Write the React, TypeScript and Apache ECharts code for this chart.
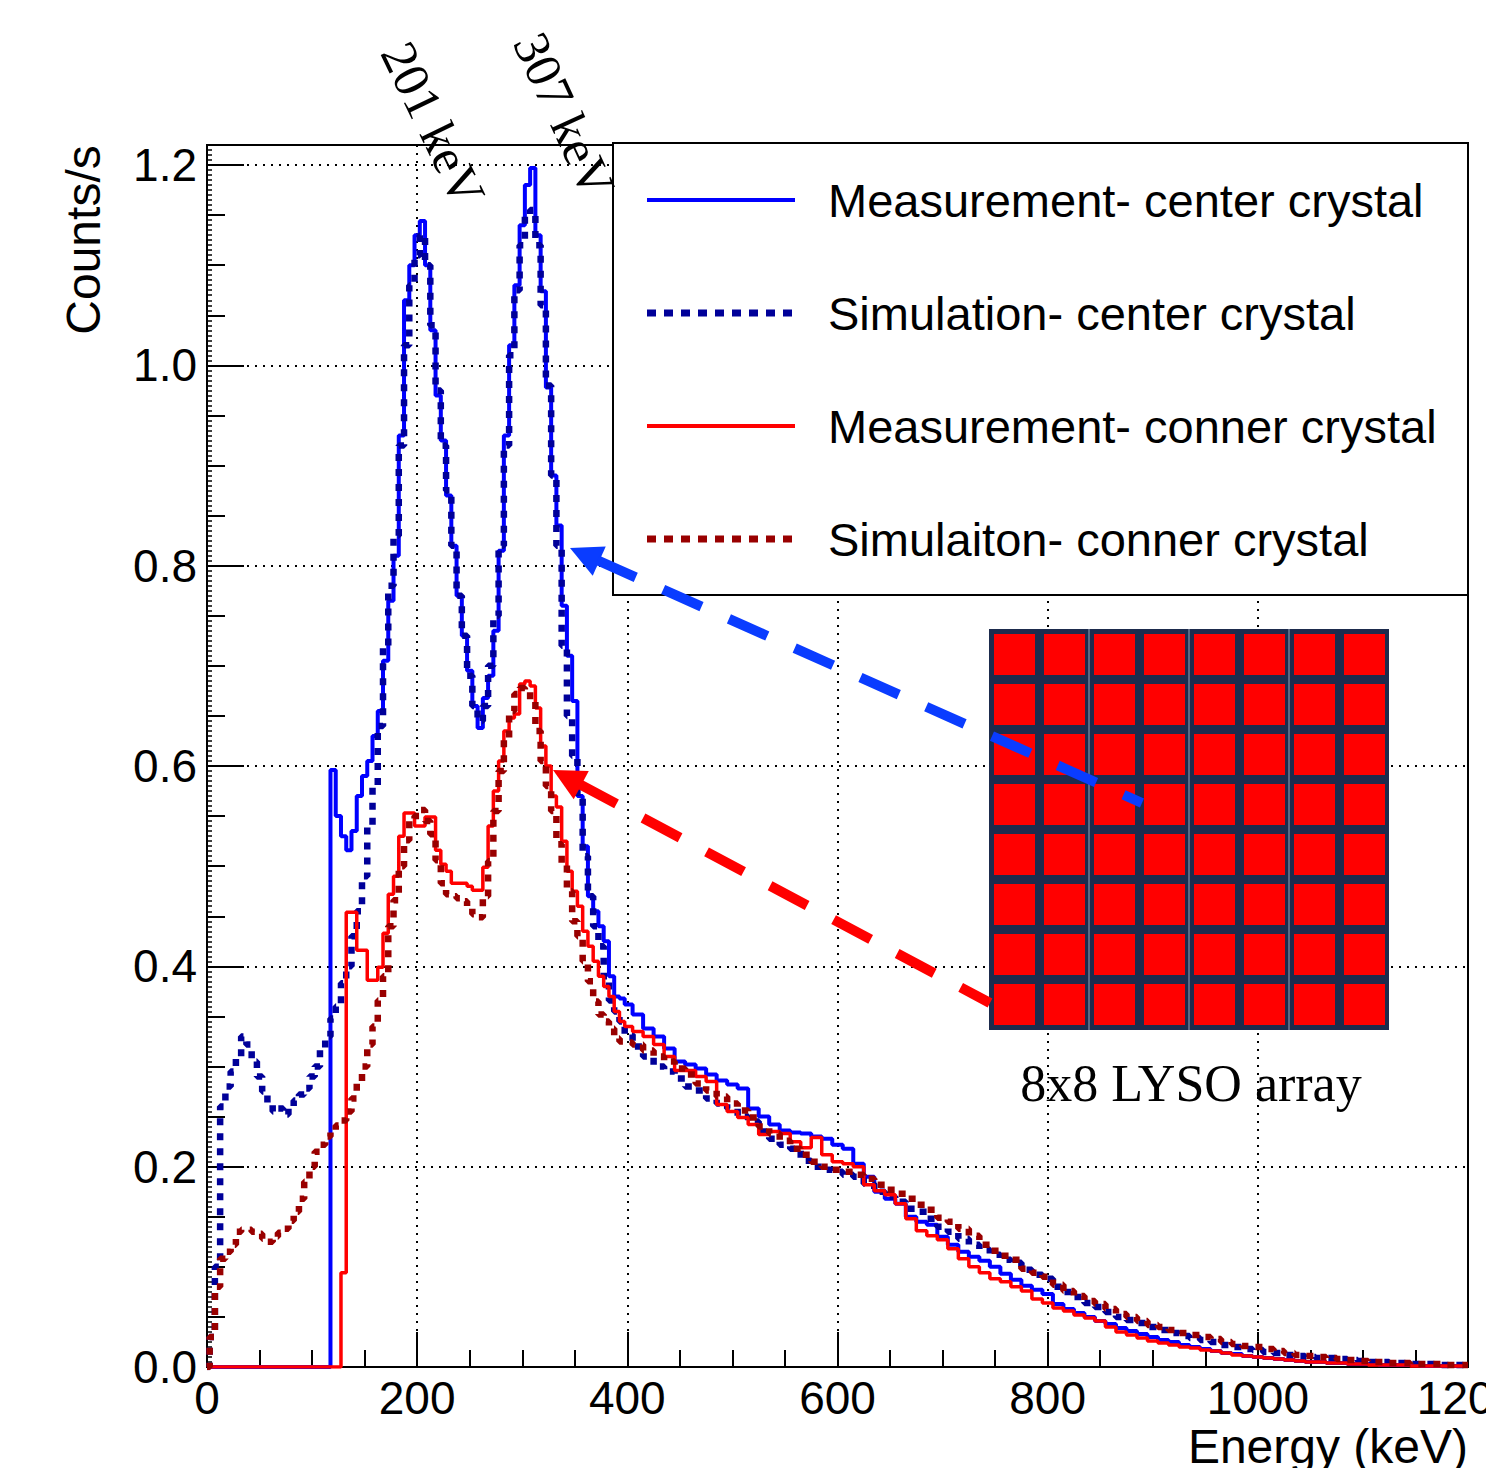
import React, { useEffect, useRef } from 'react';
import * as echarts from 'echarts';

// Bin centres (keV): 5 keV bins up to 400, 10 keV bins above
const energy = [
  0, 5, 10, 15, 20, 25, 30, 35, 40, 45, 50, 55, 60, 65, 70, 75, 80, 85, 90, 95,
  100, 105, 110, 115, 120, 125, 130, 135, 140, 145, 150, 155, 160, 165, 170, 175, 180, 185, 190, 195,
  200, 205, 210, 215, 220, 225, 230, 235, 240, 245, 250, 255, 260, 265, 270, 275, 280, 285, 290, 295,
  300, 305, 310, 315, 320, 325, 330, 335, 340, 345, 350, 355, 360, 365, 370, 375, 380, 385, 390, 395,
  400,
  410, 420, 430, 440, 450, 460, 470, 480, 490, 500, 510, 520, 530, 540, 550, 560, 570, 580, 590, 600,
  610, 620, 630, 640, 650, 660, 670, 680, 690, 700, 710, 720, 730, 740, 750, 760, 770, 780, 790, 800,
  810, 820, 830, 840, 850, 860, 870, 880, 890, 900, 910, 920, 930, 940, 950, 960, 970, 980, 990, 1000,
  1010, 1020, 1030, 1040, 1050, 1060, 1070, 1080, 1090, 1100, 1110, 1120, 1130, 1140, 1150, 1160, 1170, 1180, 1190, 1200,
];

const measCenter = [
  0, 0, 0, 0, 0, 0, 0, 0, 0, 0, 0, 0, 0, 0, 0, 0, 0, 0, 0, 0,
  0, 0, 0, 0, 0.596, 0.55, 0.53, 0.516, 0.535, 0.57, 0.59, 0.605, 0.63, 0.655, 0.705, 0.765, 0.81, 0.93, 1.065, 1.1,
  1.13, 1.144, 1.1, 1.035, 0.97, 0.925, 0.87, 0.82, 0.77, 0.73, 0.695, 0.66, 0.638, 0.668, 0.69, 0.735, 0.815, 0.93, 1.02, 1.08,
  1.14, 1.18, 1.197, 1.13, 1.074, 0.978, 0.89, 0.84, 0.76, 0.71, 0.665, 0.57, 0.52, 0.47, 0.455, 0.44, 0.425, 0.39, 0.37, 0.368,
  0.362,
  0.352, 0.338, 0.33, 0.318, 0.305, 0.302, 0.298, 0.292, 0.286, 0.282, 0.278, 0.258, 0.25, 0.242, 0.236, 0.234, 0.233, 0.23, 0.228, 0.222,
  0.218, 0.203, 0.19, 0.175, 0.168, 0.163, 0.15, 0.145, 0.142, 0.13, 0.122, 0.115, 0.11, 0.106, 0.1, 0.093, 0.087, 0.081, 0.077, 0.073,
  0.063, 0.058, 0.054, 0.05, 0.046, 0.043, 0.039, 0.036, 0.033, 0.03, 0.027, 0.025, 0.022, 0.02, 0.018, 0.016, 0.014, 0.013, 0.011, 0.01,
  0.009, 0.008, 0.007, 0.006, 0.005, 0.005, 0.004, 0.004, 0.003, 0.003, 0.003, 0.002, 0.002, 0.002, 0.002, 0.001, 0.001, 0.001, 0.001, 0.001,
];

const simCenter = [
  0, 0.03, 0.1, 0.26, 0.28, 0.295, 0.31, 0.33, 0.322, 0.305, 0.29, 0.275, 0.262, 0.255, 0.258, 0.252, 0.26, 0.266, 0.272, 0.278,
  0.29, 0.3, 0.318, 0.33, 0.348, 0.36, 0.383, 0.4, 0.43, 0.455, 0.49, 0.54, 0.58, 0.64, 0.72, 0.78, 0.83, 0.92, 1.02, 1.08,
  1.11, 1.13, 1.1, 1.04, 0.975, 0.92, 0.875, 0.82, 0.77, 0.73, 0.69, 0.66, 0.645, 0.66, 0.7, 0.75, 0.82, 0.92, 1.01, 1.075,
  1.12, 1.15, 1.155, 1.12, 1.06, 0.98, 0.89, 0.82, 0.72, 0.65, 0.61, 0.57, 0.51, 0.47, 0.44, 0.42, 0.39, 0.366, 0.355, 0.345,
  0.332,
  0.32, 0.31, 0.3, 0.295, 0.288, 0.28, 0.276, 0.268, 0.263, 0.258, 0.25, 0.245, 0.235, 0.228, 0.222, 0.218, 0.206, 0.2, 0.197, 0.195,
  0.192, 0.19, 0.183, 0.175, 0.17, 0.165, 0.158, 0.155, 0.148, 0.14, 0.135, 0.128, 0.122, 0.117, 0.112, 0.107, 0.104, 0.097, 0.092, 0.088,
  0.08, 0.075, 0.07, 0.064, 0.06, 0.055, 0.05, 0.047, 0.044, 0.04, 0.037, 0.034, 0.031, 0.029, 0.027, 0.025, 0.022, 0.02, 0.018, 0.017,
  0.015, 0.014, 0.012, 0.011, 0.01, 0.009, 0.009, 0.008, 0.007, 0.006, 0.005, 0.005, 0.004, 0.004, 0.003, 0.003, 0.003, 0.002, 0.002, 0.002,
];

const measCorner = [
  0, 0, 0, 0, 0, 0, 0, 0, 0, 0, 0, 0, 0, 0, 0, 0, 0, 0, 0, 0,
  0, 0, 0, 0, 0, 0, 0.094, 0.454, 0.454, 0.416, 0.416, 0.386, 0.386, 0.399, 0.433, 0.472, 0.49, 0.53, 0.553, 0.553,
  0.54, 0.54, 0.549, 0.549, 0.516, 0.502, 0.495, 0.483, 0.483, 0.483, 0.48, 0.476, 0.476, 0.499, 0.54, 0.575, 0.605, 0.635, 0.648, 0.652,
  0.682, 0.685, 0.68, 0.658, 0.62, 0.6, 0.57, 0.559, 0.525, 0.495, 0.475, 0.46, 0.435, 0.42, 0.405, 0.39, 0.38, 0.37, 0.355, 0.345,
  0.34,
  0.335, 0.33, 0.322, 0.31, 0.296, 0.296, 0.29, 0.285, 0.262, 0.255, 0.249, 0.242, 0.232, 0.235, 0.233, 0.225, 0.219, 0.229, 0.212, 0.205,
  0.203, 0.2, 0.182, 0.176, 0.172, 0.163, 0.148, 0.136, 0.131, 0.127, 0.118, 0.108, 0.1, 0.094, 0.088, 0.085, 0.08, 0.076, 0.068, 0.064,
  0.059, 0.056, 0.052, 0.049, 0.046, 0.04, 0.035, 0.032, 0.029, 0.026, 0.024, 0.022, 0.02, 0.019, 0.017, 0.016, 0.014, 0.012, 0.011, 0.01,
  0.009, 0.008, 0.007, 0.006, 0.005, 0.005, 0.004, 0.004, 0.003, 0.003, 0.002, 0.002, 0.002, 0.002, 0.001, 0.001, 0.001, 0.001, 0.001, 0.001,
];

const simCorner = [
  0, 0.03, 0.08, 0.108, 0.115, 0.122, 0.135, 0.137, 0.137, 0.135, 0.133, 0.128, 0.125, 0.13, 0.134, 0.138, 0.146, 0.155, 0.168, 0.185,
  0.2, 0.215, 0.222, 0.23, 0.236, 0.241, 0.246, 0.255, 0.268, 0.283, 0.3, 0.322, 0.34, 0.366, 0.39, 0.44, 0.466, 0.5, 0.526, 0.545,
  0.55, 0.556, 0.545, 0.532, 0.506, 0.483, 0.472, 0.47, 0.468, 0.465, 0.458, 0.452, 0.449, 0.47, 0.505, 0.555, 0.595, 0.628, 0.655, 0.672,
  0.678, 0.676, 0.665, 0.635, 0.605, 0.58, 0.555, 0.522, 0.502, 0.475, 0.445, 0.43, 0.405, 0.385, 0.365, 0.352, 0.345, 0.338, 0.328, 0.325,
  0.324,
  0.322, 0.316, 0.31, 0.305, 0.298, 0.292, 0.283, 0.276, 0.27, 0.263, 0.256, 0.249, 0.24, 0.233, 0.226, 0.218, 0.212, 0.205, 0.2, 0.197,
  0.195, 0.192, 0.188, 0.182, 0.177, 0.173, 0.168, 0.162, 0.157, 0.149, 0.145, 0.138, 0.131, 0.122, 0.116, 0.111, 0.107, 0.098, 0.094, 0.09,
  0.082, 0.076, 0.071, 0.066, 0.063, 0.058, 0.053, 0.05, 0.046, 0.042, 0.04, 0.037, 0.034, 0.032, 0.03, 0.028, 0.025, 0.023, 0.021, 0.02,
  0.018, 0.016, 0.014, 0.012, 0.011, 0.01, 0.009, 0.008, 0.007, 0.006, 0.005, 0.005, 0.004, 0.004, 0.003, 0.003, 0.003, 0.002, 0.002, 0.002,
];

const seriesNames = [
  'Measurement- center crystal',
  'Simulation- center crystal',
  'Measurement- conner crystal',
  'Simulaiton- conner crystal',
];
const seriesColors = ['#0000ff', '#000099', '#ff0000', '#990000'];
const peakLabels = ['201 keV', '307 keV'];
const insetLabel = '8x8 LYSO array';
const xTitle = 'Energy (keV)';
const yTitle = 'Counts/s';

const SANS = '"Liberation Sans", Arial, Helvetica, sans-serif';
const SERIF = '"Liberation Serif", "Times New Roman", serif';

function arrowGraphics(tip: number[], tail: number[], color: string, z: number) {
  const dx = tail[0] - tip[0];
  const dy = tail[1] - tip[1];
  const len = Math.sqrt(dx * dx + dy * dy);
  const ux = dx / len;
  const uy = dy / len;
  const headLen = 32;
  const half = 16;
  const bx = tip[0] + ux * headLen;
  const by = tip[1] + uy * headLen;
  const px = -uy;
  const py = ux;
  return [
    {
      type: 'polygon',
      z,
      shape: {
        points: [
          [tip[0], tip[1]],
          [bx + px * half, by + py * half],
          [bx - px * half, by - py * half],
        ],
      },
      style: { fill: color },
    },
    {
      type: 'line',
      z,
      shape: { x1: bx - ux * 2, y1: by - uy * 2, x2: tail[0], y2: tail[1] },
      style: { stroke: color, lineWidth: 10, lineDash: [42, 30] },
    },
  ];
}

export default function App() {
  const ref = useRef<HTMLDivElement>(null);
  useEffect(() => {
    if (!ref.current) return;
    const chart = echarts.init(ref.current, undefined, { renderer: 'svg' });
    const seriesData = [measCenter, simCenter, measCorner, simCorner];
    const dotted = [false, true, false, true];

    const graphics: any[] = [];
    // legend box
    graphics.push({
      type: 'rect',
      z: 20,
      shape: { x: 613, y: 143, width: 855, height: 452 },
      style: { fill: '#ffffff', stroke: '#000000', lineWidth: 2 },
    });
    const legendY = [200, 313, 426, 539];
    seriesNames.forEach((name, i) => {
      graphics.push({
        type: 'line',
        z: 21,
        shape: { x1: 647, y1: legendY[i], x2: 795, y2: legendY[i] },
        style: dotted[i]
          ? { stroke: seriesColors[i], lineWidth: 7, lineDash: [9, 8] }
          : { stroke: seriesColors[i], lineWidth: 4 },
      });
      graphics.push({
        type: 'text',
        z: 21,
        x: 828,
        y: legendY[i],
        style: {
          text: name,
          fill: '#000',
          font: `47px ${SANS}`,
          align: 'left',
          verticalAlign: 'middle',
        },
      });
    });

    // inset: 8x8 crystal array
    graphics.push({
      type: 'rect',
      z: 20,
      shape: { x: 989, y: 629, width: 400, height: 401 },
      style: { fill: '#1d2b4d' },
    });
    for (let r = 0; r < 8; r++) {
      for (let c = 0; c < 8; c++) {
        graphics.push({
          type: 'rect',
          z: 21,
          shape: { x: 994 + 50 * c, y: 634 + 50 * r, width: 41, height: 41 },
          style: { fill: '#ff0000' },
        });
      }
    }
    [1089, 1189, 1289].forEach((x) => {
      graphics.push({
        type: 'line',
        z: 21,
        shape: { x1: x, y1: 629, x2: x, y2: 1030 },
        style: { stroke: '#9aa6bd', lineWidth: 1 },
      });
    });
    graphics.push({
      type: 'text',
      z: 21,
      x: 1191,
      y: 1083,
      style: {
        text: insetLabel,
        fill: '#000',
        font: `52px ${SERIF}`,
        align: 'center',
        verticalAlign: 'middle',
      },
    });

    // arrows
    graphics.push(...arrowGraphics([570, 548], [1142, 803], '#0a3cff', 25));
    graphics.push(...arrowGraphics([553, 770], [990, 1003], '#ff0000', 25));

    // peak annotations
    graphics.push({
      type: 'text',
      z: 25,
      x: 433,
      y: 124,
      rotation: -1.12,
      style: { text: peakLabels[0], fill: '#000', font: `51px ${SERIF}`, align: 'center', verticalAlign: 'middle' },
    });
    graphics.push({
      type: 'text',
      z: 25,
      x: 564,
      y: 115,
      rotation: -1.14,
      style: { text: peakLabels[1], fill: '#000', font: `51px ${SERIF}`, align: 'center', verticalAlign: 'middle' },
    });

    // axis titles
    graphics.push({
      type: 'text',
      z: 25,
      x: 83,
      y: 240,
      rotation: Math.PI / 2,
      style: { text: yTitle, fill: '#000', font: `48px ${SANS}`, align: 'center', verticalAlign: 'middle' },
    });
    graphics.push({
      type: 'text',
      z: 25,
      x: 1468,
      y: 1446,
      style: { text: xTitle, fill: '#000', font: `48px ${SANS}`, align: 'right', verticalAlign: 'middle' },
    });

    const axisLineStyle = { color: '#000', width: 2 };
    const yBase = {
      type: 'value',
      min: 0,
      max: 1.22,
      position: 'left',
    };

    chart.setOption({
      animation: false,
      backgroundColor: '#ffffff',
      grid: {
        left: 207,
        top: 145,
        width: 1261,
        height: 1222,
        show: true,
        borderColor: '#000',
        borderWidth: 2,
        backgroundColor: 'transparent',
        containLabel: false,
        outerBoundsMode: 'none',
      },
      xAxis: [
        {
          type: 'value',
          min: 0,
          max: 1200,
          interval: 200,
          position: 'bottom',
          axisLine: { show: true, onZero: false, lineStyle: axisLineStyle },
          axisTick: { show: true, inside: true, length: 35, lineStyle: axisLineStyle },
          minorTick: { show: true, splitNumber: 4, length: 17, lineStyle: axisLineStyle },
          axisLabel: {
            color: '#000',
            fontSize: 46,
            fontFamily: SANS,
            margin: 8,
            formatter: (v: number) => String(v),
          },
          splitLine: { show: true, lineStyle: { color: '#000', width: 2, type: [2, 6] } },
          minorSplitLine: { show: false },
        },
      ],
      yAxis: [
        {
          ...yBase,
          interval: 0.2,
          axisLine: { show: true, onZero: false, lineStyle: axisLineStyle },
          axisTick: { show: true, inside: true, length: 37, lineStyle: axisLineStyle },
          axisLabel: {
            color: '#000',
            fontSize: 46,
            fontFamily: SANS,
            margin: 10,
            formatter: (v: number) => (Math.abs(v * 5 - Math.round(v * 5)) < 1e-6 ? v.toFixed(1) : ''),
          },
          splitLine: { show: true, lineStyle: { color: '#000', width: 2, type: [2, 6] } },
        },
        {
          ...yBase,
          interval: 0.05,
          axisLine: { show: false },
          axisTick: { show: true, inside: true, length: 18, lineStyle: axisLineStyle },
          axisLabel: { show: false },
          splitLine: { show: false },
        },
        {
          ...yBase,
          interval: 0.005,
          axisLine: { show: false },
          axisTick: { show: true, inside: true, length: 5, lineStyle: { color: '#000', width: 1.5 } },
          axisLabel: { show: false },
          splitLine: { show: false },
        },
      ],
      series: seriesNames.map((name, i) => ({
        name,
        type: 'line',
        step: 'middle',
        xAxisIndex: 0,
        yAxisIndex: 0,
        symbol: 'none',
        silent: true,
        z: 3 + i,
        data: energy.map((e, k) => [e, seriesData[i][k]]),
        lineStyle: dotted[i]
          ? { color: seriesColors[i], width: 6.5, type: [7, 8] }
          : { color: seriesColors[i], width: i === 0 ? 4 : 3.5 },
        itemStyle: { color: seriesColors[i] },
      })),
      graphic: graphics,
    });
    return () => chart.dispose();
  }, []);

  return (
    <div
      ref={ref}
      style={{ position: 'fixed', left: 0, top: 0, width: 1486, height: 1468, background: '#fff' }}
    />
  );
}
